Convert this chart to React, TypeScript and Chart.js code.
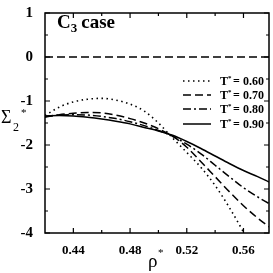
import React, { useEffect, useRef } from "react";
import { Chart, registerables } from "chart.js";

Chart.register(...registerables);

const rho = [0.42, 0.43, 0.44, 0.45, 0.46, 0.47, 0.48, 0.49, 0.5, 0.51, 0.52, 0.53, 0.54, 0.55, 0.56, 0.57, 0.578];
const sigmaT060 = [-1.33, -1.14, -1.02, -0.96, -0.94, -0.98, -1.07, -1.23, -1.5, -1.84, -2.17, -2.51, -2.92, -3.42, -3.98, -4.6, -5.1];
const sigmaT070 = [-1.37, -1.31, -1.28, -1.26, -1.27, -1.32, -1.4, -1.5, -1.63, -1.8, -2.05, -2.38, -2.72, -3.06, -3.38, -3.66, -3.86];
const sigmaT080 = [-1.35, -1.32, -1.31, -1.32, -1.35, -1.4, -1.47, -1.56, -1.67, -1.8, -1.98, -2.2, -2.46, -2.72, -2.97, -3.18, -3.33];
const sigmaT090 = [-1.34, -1.33, -1.34, -1.37, -1.41, -1.46, -1.52, -1.6, -1.68, -1.78, -1.92, -2.08, -2.25, -2.42, -2.58, -2.72, -2.84];
const seriesLabels = ["0.60", "0.70", "0.80", "0.90"];
const zeroLineX = [0.42, 0.578];
const zeroLineY = [0, 0];

const xMajorTicks = [0.44, 0.48, 0.52, 0.56];
const xMinorTicks = [0.46, 0.5, 0.54];
const yMajorTicks = [1, 0, -1, -2, -3, -4];
const yMinorTicks = [0.5, -0.5, -1.5, -2.5, -3.5];

const dashes: number[][] = [[1.5, 3.5], [8, 4], [8, 3, 2, 3], []];

const toPts = (xs: number[], ys: number[]) => xs.map((x, i) => ({ x, y: ys[i] }));

export default function App() {
  const ref = useRef<HTMLCanvasElement | null>(null);
  useEffect(() => {
    if (!ref.current) return;
    const seriesData = [sigmaT060, sigmaT070, sigmaT080, sigmaT090];
    const datasets: any[] = seriesData.map((ys, i) => ({
      label: "T* = " + seriesLabels[i],
      data: toPts(rho, ys),
      borderColor: "#000",
      borderWidth: i === 0 ? 1.6 : 1.5,
      borderDash: dashes[i],
      pointRadius: 0,
      cubicInterpolationMode: "monotone",
      fill: false,
    }));
    datasets.push({
      label: "zero",
      data: toPts(zeroLineX, zeroLineY),
      borderColor: "#000",
      borderWidth: 1.3,
      borderDash: [8, 4],
      pointRadius: 0,
      fill: false,
    });

    const serif = "'Liberation Serif', 'DejaVu Serif', serif";

    const decor = {
      id: "decor",
      afterDraw(chart: any) {
        const ctx = chart.ctx as CanvasRenderingContext2D;
        const a = chart.chartArea;
        const xs = chart.scales.x;
        const ys = chart.scales.y;
        ctx.save();
        ctx.strokeStyle = "#000";
        ctx.fillStyle = "#000";
        ctx.setLineDash([]);
        ctx.lineWidth = 1.5;
        ctx.strokeRect(a.left, a.top, a.right - a.left, a.bottom - a.top);
        ctx.lineWidth = 1.2;
        const tx = (vals: number[], len: number) => {
          vals.forEach((v) => {
            const p = xs.getPixelForValue(v);
            ctx.beginPath();
            ctx.moveTo(p, a.bottom);
            ctx.lineTo(p, a.bottom - len);
            ctx.moveTo(p, a.top);
            ctx.lineTo(p, a.top + len);
            ctx.stroke();
          });
        };
        const ty = (vals: number[], len: number) => {
          vals.forEach((v) => {
            const p = ys.getPixelForValue(v);
            ctx.beginPath();
            ctx.moveTo(a.left, p);
            ctx.lineTo(a.left + len, p);
            ctx.moveTo(a.right, p);
            ctx.lineTo(a.right - len, p);
            ctx.stroke();
          });
        };
        tx(xMajorTicks, 5);
        tx(xMinorTicks, 3);
        ty(yMajorTicks, 5);
        ty(yMinorTicks, 3);

        // title "C3 case"
        ctx.font = "bold 19px " + serif;
        ctx.textBaseline = "alphabetic";
        ctx.textAlign = "left";
        let x0 = a.left + 12;
        const by = 28;
        ctx.fillText("C", x0, by);
        x0 += ctx.measureText("C").width;
        ctx.font = "bold 13px " + serif;
        ctx.fillText("3", x0, by + 4);
        x0 += ctx.measureText("3").width + 4;
        ctx.font = "bold 19px " + serif;
        ctx.fillText("case", x0, by);

        // legend
        const rows = [81, 95, 109, 124];
        rows.forEach((ry, i) => {
          ctx.setLineDash(dashes[i]);
          ctx.lineWidth = 1.5;
          ctx.beginPath();
          ctx.moveTo(183, ry);
          ctx.lineTo(211, ry);
          ctx.stroke();
          ctx.setLineDash([]);
          ctx.font = "bold 12px " + serif;
          ctx.textBaseline = "alphabetic";
          ctx.fillText("T", 220, ry + 4);
          ctx.font = "bold 7px " + serif;
          ctx.fillText("*", 228, ry - 1);
          ctx.font = "bold 12px " + serif;
          ctx.fillText("=", 233, ry + 4);
          ctx.fillText(seriesLabels[i], 243, ry + 4);
        });

        // y title
        ctx.font = "18px " + serif;
        ctx.fillText("Σ", 1, 123);
        ctx.font = "12px " + serif;
        ctx.fillText("2", 13, 131);
        ctx.font = "11px " + serif;
        ctx.fillText("*", 21, 116);

        // x title
        ctx.font = "19px " + serif;
        ctx.fillText("ρ", 148, 267);
        ctx.font = "11px " + serif;
        ctx.fillText("*", 158, 256);
        ctx.restore();
      },
    };

    const chart = new Chart(ref.current, {
      type: "line",
      data: { datasets },
      options: {
        responsive: false,
        animation: false,
        layout: { padding: { top: 5, right: 4, left: 0, bottom: 0 } },
        plugins: { legend: { display: false }, tooltip: { enabled: false } },
        scales: {
          x: {
            type: "linear",
            min: 0.42,
            max: 0.578,
            grid: { display: false },
            border: { display: false },
            afterBuildTicks: (s: any) => {
              s.ticks = xMajorTicks.map((v) => ({ value: v }));
            },
            afterFit: (s: any) => {
              s.height = 40;
            },
            ticks: {
              padding: 2,
              color: "#000",
              font: { family: serif, weight: "bold", size: 13 },
              maxRotation: 0,
              callback: (v: any) => Number(v).toFixed(2),
            },
          },
          y: {
            type: "linear",
            min: -4,
            max: 1,
            grid: { display: false },
            border: { display: false },
            afterBuildTicks: (s: any) => {
              s.ticks = yMajorTicks.map((v) => ({ value: v }));
            },
            afterFit: (s: any) => {
              s.width = 45;
            },
            ticks: {
              padding: 4,
              color: "#000",
              font: { family: serif, weight: "bold", size: 15 },
              callback: (v: any) => String(v),
            },
          },
        },
      } as any,
      plugins: [decor],
    });
    return () => chart.destroy();
  }, []);
  return (
    <div style={{ position: "fixed", left: 0, top: 0, width: 273, height: 273, background: "#fff" }}>
      <canvas ref={ref} width={273} height={273} />
    </div>
  );
}
